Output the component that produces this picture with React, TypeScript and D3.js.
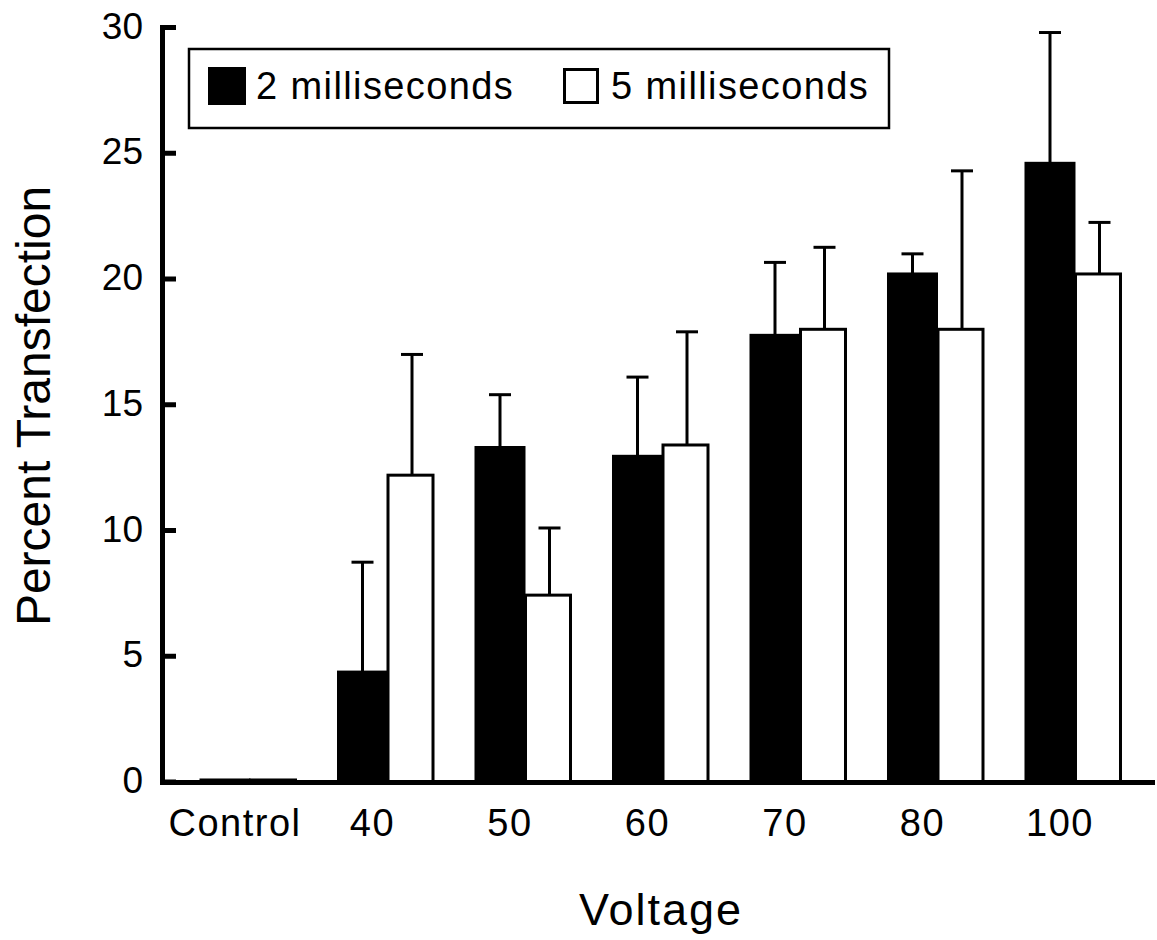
import React from "react";
import { scaleLinear, scaleBand } from "d3";

const categories = ["Control", "40", "50", "60", "70", "80", "100"];
const series = ["2 milliseconds", "5 milliseconds"];
const ms2 = [0.08, 4.37, 13.3, 12.95, 17.76, 20.2, 24.6];
const ms2Err = [0, 4.37, 2.1, 3.15, 2.9, 0.8, 5.2];
const ms5 = [0.08, 12.2, 7.43, 13.4, 18.0, 18.0, 20.2];
const ms5Err = [0, 4.8, 2.67, 4.5, 3.26, 6.3, 2.05];
const yTicks = [0, 5, 10, 15, 20, 25, 30];

const W = 1157;
const H = 940;
const font = "'Liberation Sans', Arial, Helvetica, sans-serif";

export default function App() {
  const y = scaleLinear().domain([0, 30]).range([782, 27.5]);
  const x = scaleBand()
    .domain(categories)
    .range([163, 1160])
    .paddingInner(0.3018)
    .paddingOuter(0.2764);
  const xs = scaleBand().domain(series).range([0, x.bandwidth()]);
  const bw = xs.bandwidth();

  const values = [ms2, ms5];
  const errs = [ms2Err, ms5Err];

  return (
    <div style={{ position: "absolute", left: 0, top: 0 }}>
      <svg width={W} height={H} style={{ display: "block", background: "#fff" }}>
        {/* bars */}
        {categories.map((c, i) => {
          const g = x(c)!;
          return (
            <g key={c}>
              {series.map((s, k) => {
                const v = values[k][i];
                const bx = k === 0 ? g + xs(s)! : g + xs(s)! + 1.5;
                const w = k === 0 ? bw : bw - 3;
                return (
                  <rect
                    key={s}
                    x={bx}
                    y={y(v)}
                    width={w}
                    height={y(0) - y(v)}
                    fill={k === 0 ? "#000" : "#fff"}
                    stroke="#000"
                    strokeWidth={3}
                  />
                );
              })}
              {series.map((s, k) => {
                const e = errs[k][i];
                if (!e) return null;
                const v = values[k][i];
                const cx = k === 0 ? g + xs(s)! + bw / 2 : g + xs(s)! + bw / 2 + 1.5;
                return (
                  <g key={s} stroke="#000" strokeWidth={3}>
                    <line x1={cx} x2={cx} y1={y(v)} y2={y(v + e)} />
                    <line x1={cx - 11} x2={cx + 11} y1={y(v + e)} y2={y(v + e)} />
                  </g>
                );
              })}
            </g>
          );
        })}

        {/* axes */}
        <line x1={162.5} x2={162.5} y1={25} y2={784.5} stroke="#000" strokeWidth={5} />
        <line x1={160} x2={1155} y1={782.5} y2={782.5} stroke="#000" strokeWidth={5} />
        {yTicks.map((t) => (
          <g key={t}>
            <line x1={160} x2={176} y1={y(t)} y2={y(t)} stroke="#000" strokeWidth={5} />
            <text
              x={143}
              y={y(t) - 1.5}
              textAnchor="end"
              dominantBaseline="central"
              fontFamily={font}
              fontSize={37}
              fill="#000"
            >
              {t}
            </text>
          </g>
        ))}
        {categories.map((c) => (
          <text
            key={c}
            x={x(c)! + 34}
            y={836}
            textAnchor="middle"
            fontFamily={font}
            fontSize={38}
            letterSpacing={1.5}
            fill="#000"
          >
            {c}
          </text>
        ))}

        {/* axis titles */}
        <text
          x={661}
          y={925}
          textAnchor="middle"
          fontFamily={font}
          fontSize={45}
          letterSpacing={2}
          fill="#000"
        >
          Voltage
        </text>
        <text
          transform="translate(50,406) rotate(-90)"
          textAnchor="middle"
          fontFamily={font}
          fontSize={48}
          fill="#000"
        >
          Percent Transfection
        </text>

        {/* legend */}
        <rect x={189} y={49} width={700} height={79} fill="#fff" stroke="#000" strokeWidth={2.5} />
        <rect x={208} y={67} width={38} height={38} fill="#000" />
        <text x={256} y={99} fontFamily={font} fontSize={38} letterSpacing={1.4} fill="#000">
          {series[0]}
        </text>
        <rect x={564.5} y={69.5} width={33} height={33} fill="#fff" stroke="#000" strokeWidth={3} />
        <text x={611} y={99} fontFamily={font} fontSize={38} letterSpacing={1.4} fill="#000">
          {series[1]}
        </text>
      </svg>
    </div>
  );
}
